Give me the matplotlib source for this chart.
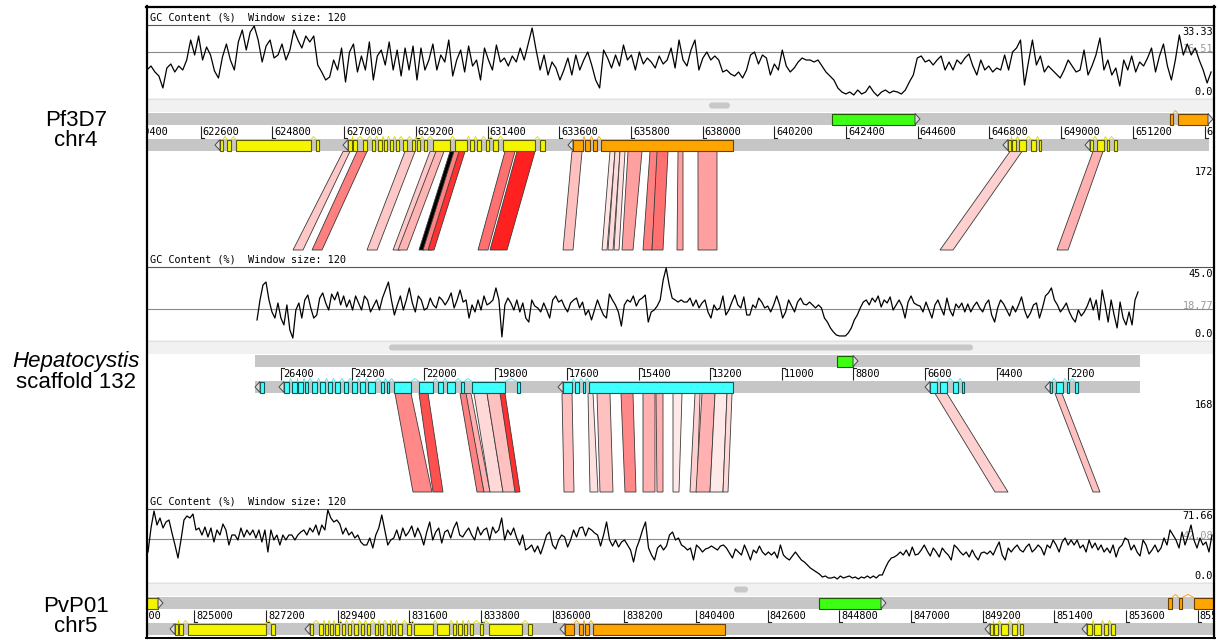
import numpy as np
import matplotlib
matplotlib.use("Agg")
import matplotlib.pyplot as plt
from matplotlib.patches import Rectangle, Polygon, FancyBboxPatch
from matplotlib import transforms as mtransforms

# ------------------------------------------------------------------ data
genome_names = [("Pf3D7", "chr4"), ("Hepatocystis", "scaffold 132"), ("PvP01", "chr5")]

# GC content (%) in sliding windows (window size 120), left -> right on screen
pf_gc = [13.5, 15.5, 12.5, 10.5, 4.5, 14.5, 16.5, 12.5, 15.5, 13.5, 18.5, 28.5, 21, 30.5, 18.5, 25, 21, 13, 9.5, 20,
         26.5, 18.5, 13.5, 27.5, 33.5, 23.5, 32.5, 35.5, 28.5, 17.5, 25.5, 28.5, 19.5, 21, 26.5, 18.5, 23.5, 33.5, 28.5, 24.5,
         30.5, 27.5, 30.5, 16, 12.5, 8.5, 10, 18.5, 13.5, 24.5, 7.5, 22.5, 26.5, 12.5, 20.5, 13.5, 27.5, 8.5, 20.5, 23.5,
         16, 27.5, 13.5, 23.5, 10.5, 24.5, 13.5, 25.5, 8.5, 24.5, 13.5, 18.5, 26.5, 13.5, 21, 17.5, 28.5, 10.5, 18.5, 23.5,
         12.5, 25.5, 15.5, 18.5, 8.5, 24.5, 18.5, 13.5, 26, 17.5, 19.5, 15.5, 20.5, 17.5, 24.5, 18.5, 26.5, 34.5, 23.5, 13.5,
         21, 11, 17.5, 14.5, 8.5, 13.5, 19.5, 11, 21, 13.5, 18.5, 22.5, 16, 8.5, 4.5, 23.5, 19.5, 14.5, 21, 15.5,
         26, 18.5, 21, 13.5, 22.5, 16.5, 19.5, 17.5, 14.5, 20.5, 16.5, 18.5, 24.5, 14.5, 28.5, 18.5, 15.5, 23.5, 28.5, 13.5,
         19.5, 22.5, 18.5, 20.5, 18.5, 12.5, 13.5, 11.5, 10.5, 12.5, 9.5, 13.5, 21, 22.5, 16.5, 21, 19.5, 11, 16.5, 13.5,
         23.5, 15.5, 12.5, 14.5, 17.5, 19.5, 18.5, 18.5, 17.5, 18.5, 15.5, 12.5, 10.5, 8.5, 4.5, 2.5, 1.5, 2.5, 1, 3.5,
         1.5, 2.5, 5.5, 2.5, 0.5, 2.5, 3.5, 2, 3, 2.5, 1.5, 3.5, 7.5, 11, 19.5, 20.5, 17.5,
         18.5, 16, 18.5, 20.5, 13.5, 17.5, 13.5, 18.5, 16.5, 19.5, 21.5, 15.5, 11, 18.5, 13.5, 15.5, 12.5, 14.5, 13.5, 21,
         13.5, 22.5, 24.5, 28.5, 6, 17.5, 28.5, 16, 20.5, 12.5, 15.5, 13.5, 11.5, 9.5, 13.5, 18.5, 15.5, 12.5, 13.5, 23.5,
         11, 15.5, 21, 29.5, 13.5, 18.5, 11, 14.5, 5.5, 18.5, 13.5, 20.5, 12.5, 17.5, 15.5, 19.5, 24.5, 12.5, 20.5, 26.5,
         15.5, 8.5, 18.5, 31, 21, 26.5, 21, 24.5, 18.5, 13.5, 7, 12.5]
pf_gc_span = (620952, 653600)

hep_gc = [11.9, 24.4, 33.8, 35.6, 24.4, 16.9, 13.1, 22.5, 13.1, 8.8, 21.3, 5.6, 0.6, 18.1, 22.5, 13.1, 24.4, 27.5, 19.4, 13.1,
          15, 25.6, 28.8, 22.5, 18.1, 28.1, 24.4, 29.4, 21.3, 26.9, 20, 24.4, 18.1, 26.9, 22.5, 18.1, 26.9, 24.4, 16.9, 20.6,
          24.4, 18.1, 25.6, 30.6, 35.6, 24.4, 15, 21.3, 26.9, 18.1, 24.4, 31.9, 22.5, 16.9, 26.9, 24.4, 18.1, 19.4, 25.6, 21.3,
          19.4, 26.3, 24.4, 21.3, 24.4, 28.8, 19.4, 24.4, 30.6, 23.1, 24.4, 13.1, 21.3, 16.9, 24.4, 18.1, 26.9, 21.3, 22.5, 24.4,
          31.9, 24.4, 1.3, 21.3, 25.6, 22.5, 18.1, 24.4, 16.9, 22.5, 13.1, 10.6, 24.4, 20.6,
          19.4, 16.9, 22.5, 18.1, 13.1, 24.4, 26.9, 23.1, 24.4, 20, 16.9, 22.5, 24.4, 25.6, 19.4, 23.1, 15, 18.1, 11.9, 18.1,
          24.4, 19.4, 15, 13.1, 28.1, 24.4, 21.3, 16.9, 8.1, 21.3, 24.4, 23.1, 26.9, 20.6, 24.4, 25.6, 27.5, 10.6, 16.9, 18.1,
          20.6, 24.4, 36.9, 44.4, 33.8, 25.6, 24.4, 23.1, 24.4, 23.1, 23.1, 25.6, 20.6, 24.4, 19.4, 22.5, 24.4, 16.9, 13.1, 21.3,
          18.1, 19.4, 26.9, 15, 18.1, 23.1, 27.5, 21.3, 19.4, 26.3, 15, 15, 21.3, 19.4, 25.6, 23.1, 19.4, 20.6, 16.9, 21.3,
          26.9, 21.3, 13.1, 16.9, 24.4, 20.6, 16.9, 23.1, 25.6, 21.9, 21.3, 23.1, 21.3, 19.4, 21.3, 19.4, 13.1, 10.6, 6.9, 4.4,
          2.5, 1.9, 1.9, 1.9, 3.8, 6.9, 11.9, 15, 19.4, 23.1, 24.4, 21.3, 25.6, 23.1, 26.9, 20, 24.4, 22.5, 26.3, 18.1,
          21.3, 24.4, 20.6, 13.1, 23.1, 26.9, 22.5, 21.3, 20.6, 16.9, 23.1, 18.1, 13.1, 21.3, 24.4,
          19.4, 15, 25.6, 18.1, 14.4, 21.9, 19.4, 22.5, 16.9, 21.9, 16.9, 20.6, 23.1, 19.4, 16.9, 21.9, 24.4, 15, 10.6, 19.4,
          24.4, 21.9, 18.1, 14.4, 20.6, 16.9, 21.3, 26.3, 18.1, 13.1, 16.3, 21.3, 22.5, 13.1, 19.4, 26.9, 28.8, 31.9, 24.4, 21.3,
          16.9, 19.4, 22.5, 16.9, 13.1, 10.6, 18.1, 14.4, 16.9, 20.6, 25.6, 18.1, 24.4, 11.9, 30.6, 21.3, 10.6, 24.4, 15, 6.9,
          23.1, 13.1, 8.8, 16.9, 8.8, 24.4, 29.4]
hep_gc_span = (27128, 55)

pv_gc = [29, 53, 70, 56, 63, 53, 59, 61, 48, 36, 23, 41, 61, 65, 63, 67, 51, 53, 46, 54,
         44, 53, 39, 51, 46, 57, 51, 36, 46, 46, 41, 53, 44, 51, 46, 51, 43, 51, 39, 51,
         29, 51, 41, 46, 36, 46, 41, 46, 46, 41, 46, 49, 51, 46, 53, 49, 56, 46, 56, 51,
         71, 63, 59, 61, 57, 47, 53, 46, 49, 43, 46, 39, 36, 36, 43, 33, 46, 53, 66, 51,
         36, 41, 43, 51, 41, 53, 45, 49, 55, 44, 53, 46, 36, 49, 59, 41, 49, 53, 38, 49,
         51, 43, 53, 59, 46, 44, 49, 53, 46, 41, 54, 46, 51, 53, 41, 54, 48, 51, 63, 41,
         51, 46, 53, 43, 36, 46, 31, 33, 36, 29, 35, 27,
         36, 46, 49, 36, 32, 41, 46, 44, 34, 41, 51, 44, 53, 54, 45, 53, 51, 48, 46, 35,
         46, 59, 41, 35, 41, 34, 39, 41, 36, 31, 19, 33, 41, 51, 59, 33, 26, 21, 33, 36,
         31, 35, 46, 49, 41, 43, 36, 34, 31, 33, 21, 36, 33, 29, 32, 33, 35, 33, 31, 35,
         36, 33, 28, 23, 32, 29, 26, 36, 29, 21, 31, 28, 35, 29, 26, 29, 26, 29, 23, 36,
         26, 23, 21, 25, 29, 25, 21, 19, 16, 13, 11, 9, 7, 4, 5, 3, 3, 4, 2, 5,
         3, 4, 5, 3, 4, 2, 4, 3, 5, 3, 5, 3, 6, 6, 13, 19, 23, 24, 26, 29,
         26, 31, 25, 34, 26, 27, 31, 36, 30, 25, 33, 29, 24,
         33, 29, 26, 21, 36, 33, 29, 26, 29, 24, 31, 25, 21, 28, 29, 27, 30, 26, 33, 39,
         26, 21, 33, 29, 33, 36, 31, 29, 34, 37, 29, 32, 36, 33, 26, 36, 33, 41, 36, 29,
         39, 43, 36, 41, 36, 41, 33, 36, 29, 41, 33, 38, 31, 36, 29, 33, 28, 36, 24, 33,
         36, 43, 41, 31, 36, 29, 25, 41, 36, 27, 31, 36, 29, 33, 43, 36, 51, 46, 41, 33,
         49, 36, 45, 56, 41, 33, 43, 36, 39, 29, 46]
pv_gc_span = (823579, 856243)

pf_gc_labels = ["33.33", "16.51", "0.0"]
hep_gc_labels = ["45.0", "18.77", "0.0"]
pv_gc_labels = ["71.66", "42.08", "0.0"]
pf_gc_ref = 22.5
hep_gc_ref = 18.77
pv_gc_ref = 42.08

# ruler tick labels (bp)
pf_ticks = [620400, 622600, 624800, 627000, 629200, 631400, 633600, 635800, 638000, 640200,
            642400, 644600, 646800, 649000, 651200, 653400]
hep_ticks = [26400, 24200, 22000, 19800, 17600, 15400, 13200, 11000, 8800, 6600, 4400, 2200]
pv_ticks = [822800, 825000, 827200, 829400, 831600, 833800, 836000, 838200, 840400, 842600,
            844800, 847000, 849200, 851400, 853600, 855800]

# displayed sequence extents (bp)
pf_track = (620900, 653540)
hep_track = (0, 27190)
pv_track = (823400, 856400)

# genes: (strand, colour, exons [(start, end), ...])
pf_genes = [
    ("+", "green", [(641968, 644515)]),
    ("+", "orange", [(652338, 652430), (652584, 653504)]),
    ("-", "yellow", [(623192, 623284), (623407, 623530), (623683, 625984), (626137, 626229)]),
    ("-", "yellow", [(627119, 627242), (627273, 627395), (627579, 627702), (627856, 627948), (628040, 628162),
                     (628224, 628316), (628408, 628500), (628592, 628684), (628807, 628929), (629083, 629175),
                     (629236, 629328), (629451, 629543), (629727, 630249), (630402, 630770), (630862, 630985),
                     (631077, 631200), (631353, 631445), (631568, 631721), (631875, 632856), (633010, 633163)]),
    ("-", "orange", [(634022, 634329), (634390, 634544), (634636, 634759), (634881, 638931)]),
    ("-", "yellow", [(647368, 647460), (647491, 647613), (647706, 647920), (648074, 648227), (648319, 648380)]),
    ("-", "yellow", [(649884, 649976), (650099, 650313), (650405, 650467), (650620, 650712)]),
]
hep_genes = [
    ("+", "green", [(9305, 8813)]),
    ("-", "cyan", [(27036, 26913)]),
    ("-", "cyan", [(26299, 26145), (26053, 25899), (25868, 25715), (25653, 25561), (25438, 25285), (25192, 25039),
                   (24946, 24824), (24731, 24578), (24455, 24332), (24209, 24055), (23963, 23809), (23717, 23502),
                   (23318, 23226), (23133, 23072), (22918, 22396), (22150, 21720), (21566, 21413), (21290, 21044),
                   (20859, 20767), (20521, 19507), (19138, 19046)]),
    ("-", "cyan", [(17725, 17448), (17356, 17233), (17110, 17049), (16926, 12501)]),
    ("-", "cyan", [(6447, 6232), (6140, 5924), (5740, 5587), (5464, 5402)]),
    ("-", "cyan", [(2759, 2698), (2575, 2360), (2237, 2175), (1991, 1899)]),
]
pv_genes = [
    ("+", "yellow", [(823300, 823886)]),
    ("+", "green", [(844178, 846082)]),
    ("+", "orange", [(854893, 855015), (855230, 855322), (855691, 856600)]),
    ("-", "yellow", [(824407, 824500), (824530, 824653), (824807, 827201), (827355, 827477)]),
    ("-", "yellow", [(828552, 828644), (828828, 828951), (829012, 829105), (829166, 829258), (829319, 829442),
                     (829534, 829626), (829719, 829811), (829903, 830026), (830118, 830210), (830302, 830394),
                     (830547, 830640), (830701, 830793), (830916, 831008), (831069, 831161), (831254, 831376),
                     (831530, 831653), (831745, 832328), (832451, 832819), (832942, 833034), (833096, 833218),
                     (833280, 833372), (833464, 833556), (833771, 833863), (834047, 835060), (835245, 835367)]),
    ("-", "orange", [(836380, 836657), (836810, 836933), (836994, 837117), (837240, 841292)]),
    ("-", "yellow", [(849428, 849520), (849551, 849674), (849766, 849981), (850103, 850257), (850349, 850441)]),
    ("-", "yellow", [(852406, 852559), (852621, 852836), (852928, 853051), (853143, 853265)]),
]

# comparison matches: (upper start, upper end, lower start, lower end) in bp
pf_hep_matches = [
    (626966, 627180, 26022, 25715), (627395, 627702, 25438, 25131), (628868, 629175, 23748, 23441),
    (629635, 629850, 22949, 22734), (629819, 630064, 22795, 22519), (630249, 630433, 22150, 21996),
    (630371, 630617, 22027, 21751), (630525, 630709, 21873, 21689), (631936, 632243, 20337, 20030),
    (632304, 632856, 19968, 19446), (633991, 634299, 17725, 17418), (635157, 635311, 16526, 16373),
    (635311, 635464, 16342, 16188), (635464, 635618, 16158, 16004), (635710, 636139, 15912, 15574),
    (636385, 636630, 15267, 14990), (636600, 636937, 14990, 14652), (637244, 637397, 14222, 14037),
    (637857, 638440, 13576, 12993), (647429, 647797, 6140, 5740), (649976, 650283, 2544, 2206),
]
pf_hep_colors = ["#ffc8c8", "#ff8080", "#ffc8c8", "#ffc8c8", "#ffb4b4", "#000000", "#ff8080", "#ff3030",
                 "#ff7070", "#ff2020", "#ffc0c0", "#ffe4e4", "#ffdcdc", "#ffe0e0", "#ffa0a0", "#ff8080",
                 "#ff7070", "#ffa0a0", "#ffa0a0", "#ffd0d0", "#ffb0b0"]
hep_pv_matches = [
    (22888, 22396, 831714, 832297), (22150, 21873, 832328, 832635), (20890, 20675, 833679, 833894),
    (20706, 20552, 833894, 834078), (20460, 20060, 834078, 834477), (20060, 19599, 834477, 834907),
    (19661, 19507, 834845, 834999), (17756, 17448, 836350, 836657), (16957, 16803, 837148, 837394),
    (16680, 16281, 837455, 837854), (15943, 15574, 838222, 838560), (15267, 14898, 838775, 839143),
    (14867, 14652, 839205, 839389), (14345, 14068, 839696, 839880), (13669, 13515, 840218, 840433),
    (13454, 13054, 840402, 840832), (13054, 12685, 840832, 841231), (12685, 12531, 841231, 841385),
    (6293, 5924, 849581, 849981), (2606, 2391, 852590, 852805),
]
hep_pv_colors = ["#ff8888", "#ff5050", "#ff8080", "#ffb0b0", "#ffd8d8", "#ffc0c0", "#ff3030", "#ffc0c0",
                 "#ffe0e0", "#ffc0c0", "#ff8888", "#ffb0b0", "#ffb0b0", "#ffe8e8", "#ffd0d0", "#ffb0b0",
                 "#ffe8e8", "#ffd8d8", "#ffd0d0", "#ffc0c0"]
cutoff_labels = [("172", 172), ("168", 405)]

# ------------------------------------------------------------------ layout / style
W, H = 1218, 640
fig = plt.figure(figsize=(W / 100, H / 100), dpi=100)
fig.patch.set_facecolor("white")
MONO = "DejaVu Sans Mono"
SANS = "Liberation Sans"
X0, X1 = 147, 1214
TRACK_GREY = "#c6c6c6"
COLS = {"yellow": ("#f5f500", "#5c5c00", "#d8d800"),
        "orange": ("#ffa500", "#6a4000", "#ff9a00"),
        "green": ("#3cff14", "#1d5a00", "#3cff14"),
        "cyan": ("#40ffff", "#005c5c", "#40e8e8")}


def px_axes(x0, y0, x1, y1, z):
    ax = fig.add_axes([x0 / W, 1 - y1 / H, (x1 - x0) / W, (y1 - y0) / H], zorder=z)
    ax.set_axis_off()
    ax.patch.set_visible(False)
    return ax


under = px_axes(0, 0, W, H, 0)
under.set_xlim(0, W)
under.set_ylim(H, 0)
over = px_axes(0, 0, W, H, 5)
over.set_xlim(0, W)
over.set_ylim(H, 0)


def to_px(ax, bp):
    disp = ax.transData.transform((bp, 0))
    return under.transData.inverted().transform(disp)[0]


def shift_bp(ax, bp, dpx):
    disp = ax.transData.transform((bp, 0))
    return ax.transData.inverted().transform((disp[0] + dpx, disp[1]))[0]


panels = [
    dict(T=7, xlim=(620952, 653689), gc=pf_gc, span=pf_gc_span, s=0.5, labels=pf_gc_labels, ref=pf_gc_ref,
         ticks=pf_ticks, track=pf_track, genes=pf_genes, foot="bottom", thumb=(706, 733), name_y=(121, 141)),
    dict(T=249, xlim=(30509, -2280), gc=hep_gc, span=hep_gc_span, s=0.625, labels=hep_gc_labels, ref=hep_gc_ref,
         ticks=hep_ticks, track=hep_track, genes=hep_genes, foot="top", thumb=(386, 976), name_y=(362, 383)),
    dict(T=491, xlim=(823548, 856305), gc=pv_gc, span=pv_gc_span, s=1.0, labels=pv_gc_labels, ref=pv_gc_ref,
         ticks=pv_ticks, track=pv_track, genes=pv_genes, foot="bottom", thumb=(731, 751), name_y=(606, 627)),
]

track_axes = []
for gi, p in enumerate(panels):
    T = p["T"]
    # header
    under.text(150, T + 11, "GC Content (%)  Window size: 120", family=MONO, size=7.4, va="center", ha="left")
    under.plot([X0, X1], [T + 17.5, T + 17.5], color="#555555", lw=0.8)
    # scroll band + thumb
    under.add_patch(Rectangle((X0, T + 91), X1 - X0, 13.5, fc="#f1f1f1", ec="none"))
    under.plot([X0, X1], [T + 91.5, T + 91.5], color="#e2e2e2", lw=0.8)
    t0, t1 = p["thumb"]
    under.add_patch(FancyBboxPatch((t0 + 3, T + 95.5), t1 - t0 - 6, 6,
                                   boxstyle="round,pad=0,rounding_size=3", fc="#c8c8c8", ec="none"))

    # GC plot
    s = p["s"]
    axg = px_axes(X0, T + 17, X1, T + 91, 1)
    axg.set_xlim(*p["xlim"])
    axg.set_ylim(-s, 73 * s)
    axg.axhline(p["ref"], color="#8a8a8a", lw=0.8, zorder=1)
    xs = np.linspace(p["span"][0], p["span"][1], len(p["gc"]))
    axg.plot(xs, p["gc"], color="black", lw=0.9, zorder=2)
    ref_y = under.transData.inverted().transform(axg.transData.transform((0, p["ref"])))[1]
    under.text(1213, T + 25, p["labels"][0], family=MONO, size=7.4, ha="right", va="center")
    under.text(1213, ref_y - 3, p["labels"][1], family=MONO, size=7.4, ha="right", va="center", color="#9a9a9a")
    under.text(1213, T + 85, p["labels"][2], family=MONO, size=7.4, ha="right", va="center")

    # feature tracks + ruler
    axt = px_axes(X0, T + 104, X1, T + 146, 2)
    axt.set_xlim(*p["xlim"])
    axt.set_ylim(42, 0)
    track_axes.append(axt)
    a, b = p["track"]
    axt.add_patch(Rectangle((a, 2), b - a, 12, fc=TRACK_GREY, ec="none"))
    axt.add_patch(Rectangle((a, 28), b - a, 12, fc=TRACK_GREY, ec="none"))

    for tk in p["ticks"]:
        axt.plot([tk, tk], [14.5, 26.5], color="#222222", lw=0.8, solid_capstyle="butt")
        fy = 26.5 if p["foot"] == "bottom" else 14.5
        axt.plot([tk, shift_bp(axt, tk, 3)], [fy, fy], color="#222222", lw=0.8)
        tr = mtransforms.offset_copy(axt.transData, fig=fig, x=2, y=0, units="dots")
        axt.text(tk, 21, str(tk), transform=tr, family=MONO, size=7.4, ha="left", va="center", clip_on=True)

    for strand, col, exons in p["genes"]:
        fc, ec, ic = COLS[col]
        top, bot = (2, 14) if strand == "+" else (28, 40)
        ex = sorted([(min(e), max(e)) for e in exons])
        for (e0, e1) in ex:
            axt.add_patch(Rectangle((e0, top + 0.5), e1 - e0, bot - top - 1, fc=fc, ec=ec, lw=0.8))
        for (e0, e1), (n0, n1) in zip(ex[:-1], ex[1:]):
            mid = 0.5 * (e1 + n0)
            axt.plot([e1, mid, n0], [top + 0.5, top - 2.5, top + 0.5], color=ic, lw=0.6, clip_on=False)
        ends = [v for e in ex for v in e]
        xs_disp = [to_px(axt, v) for v in ends]
        if strand == "-":
            edge = ends[int(np.argmin(xs_disp))]
            tip = shift_bp(axt, edge, -5)
        else:
            edge = ends[int(np.argmax(xs_disp))]
            tip = shift_bp(axt, edge, 5)
        axt.add_patch(Polygon([(edge, top + 0.5), (tip, (top + bot) / 2), (edge, bot - 0.5)],
                              closed=True, fc="#dedede", ec="#4a4a4a", lw=0.7))

    # genome names
    n1, n2 = genome_names[gi]
    over.text(76, p["name_y"][0], n1, family=SANS, size=16, ha="center", va="center",
              style="italic" if gi == 1 else "normal")
    over.text(76, p["name_y"][1], n2, family=SANS, size=16, ha="center", va="center")

# comparison ribbons
for (up, lo, matches, cols) in [(0, 1, pf_hep_matches, pf_hep_colors), (1, 2, hep_pv_matches, hep_pv_colors)]:
    ya = panels[up]["T"] + 144.5
    yb = panels[lo]["T"] + 1
    for (a0, a1, b0, b1), c in zip(matches, cols):
        xa0, xa1 = to_px(track_axes[up], a0), to_px(track_axes[up], a1)
        xb0, xb1 = to_px(track_axes[lo], b0), to_px(track_axes[lo], b1)
        under.add_patch(Polygon([(xa0, ya), (xa1, ya), (xb1, yb), (xb0, yb)], closed=True,
                                fc=c, ec="#3a3a3a", lw=0.6))

for txt, y in cutoff_labels:
    over.text(1213, y, txt, family=MONO, size=7.4, ha="right", va="center")

# frame
over.plot([X0 - 1, X1 + 1], [7, 7], color="black", lw=1.6)
over.plot([X0 - 1, X1 + 1], [637.5, 637.5], color="black", lw=1.4)
over.plot([X0, X0], [6, 638], color="black", lw=1.6)
over.plot([X1, X1], [6, 638], color="black", lw=1.6)

fig.savefig("out.png", dpi=100)
